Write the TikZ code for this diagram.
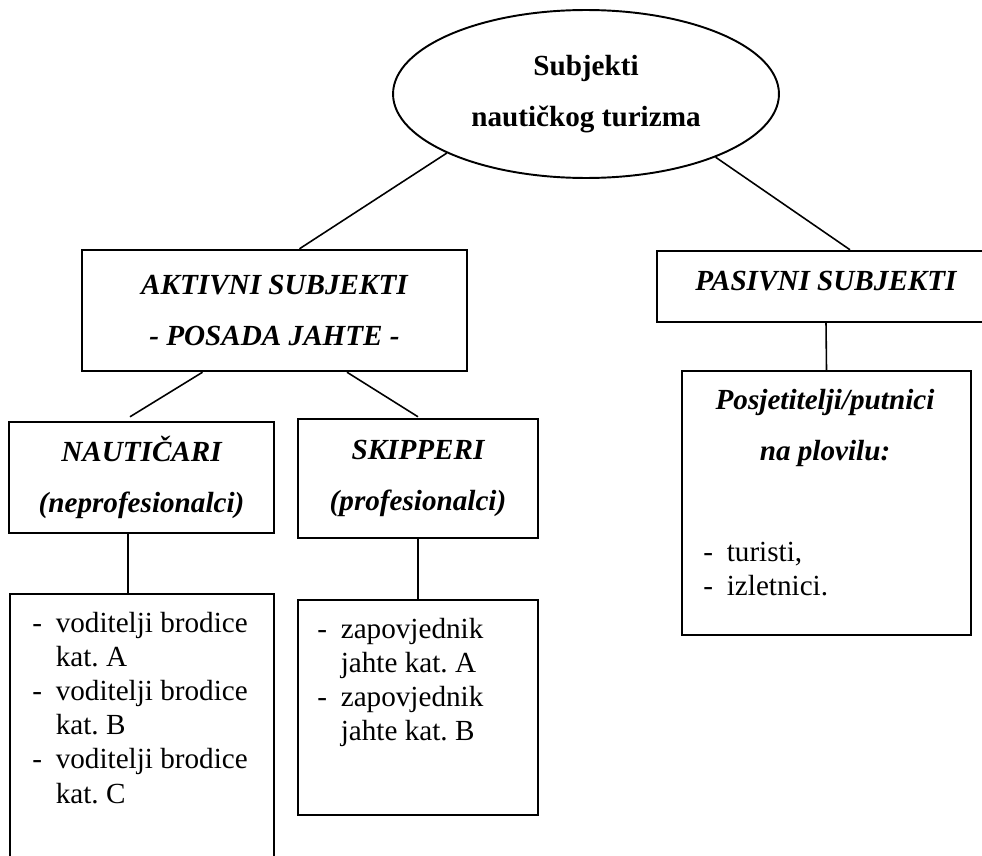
\documentclass[tikz,border=0pt]{standalone}
\usepackage{fontspec}
\setmainfont{Liberation Serif}
\usetikzlibrary{shapes.geometric}
\frenchspacing

\newcommand{\naslov}{\fontsize{16.6pt}{29pt}\selectfont}
\newcommand{\tekst}{\fontsize{16.6pt}{19.4pt}\selectfont}
\newcommand{\crta}{\makebox[0.47cm][l]{-}}
\newcommand{\uvuci}{\hspace*{0.47cm}}

\tikzset{
  okvir/.style={draw, line width=1.4pt, inner sep=0pt, align=center, font=\naslov\bfseries\itshape},
  popis/.style={anchor=north west, inner sep=0pt, align=left, font=\tekst},
  veza/.style={line width=0.9pt}
}

\begin{document}
\begin{tikzpicture}[x=0.02cm, y=-0.02cm]
    \useasboundingbox (0,0) rectangle (982,855);
    \clip (0,0) rectangle (982,855);
    % vrh
    \node[ellipse, draw, line width=1.1pt, inner sep=0pt, minimum width=7.72cm, minimum height=3.36cm,
          align=center, font=\naslov\bfseries] (sub) at (586,94) {Subjekti\\nautičkog turizma};
    % aktivni i pasivni
    \node[okvir, minimum width=7.7cm, minimum height=2.42cm] (akt) at (274.5,310.5) {AKTIVNI SUBJEKTI\\- POSADA JAHTE -};
    \node[okvir, minimum width=6.76cm, minimum height=1.42cm, text height=0.39cm, text depth=0.25cm] (pas) at (826,286.5) {PASIVNI SUBJEKTI};
    % posada
    \node[okvir, minimum width=5.3cm, minimum height=2.22cm] (nau) at (141.5,477.5) {NAUTIČARI\\(neprofesionalci)};
    \node[okvir, minimum width=4.8cm, minimum height=2.38cm] (ski) at (418,478.5) {SKIPPERI\\(profesionalci)};
    % putnici
    \node[okvir, minimum width=5.78cm, minimum height=5.28cm] (pos) at (826.5,503) {};
    \node[font=\naslov\bfseries\itshape, align=center, inner sep=0pt] (posn) at (825,428) {Posjetitelji/putnici\\na plovilu:};
    \node[popis] (post) at (703,542) {\crta turisti,\\\crta izletnici.};
    % popisi
    \node[okvir, minimum width=5.28cm, minimum height=5.72cm] (vod) at (142,737) {};
    \node[popis] (vodt) at (32,612) {\crta voditelji brodice\\\uvuci kat. A\\\crta voditelji brodice\\\uvuci kat. B\\\crta voditelji brodice\\\uvuci kat. C};
    \node[okvir, minimum width=4.8cm, minimum height=4.3cm] (zap) at (418,707.5) {};
    \node[popis] (zapt) at (317,618) {\crta zapovjednik\\\uvuci jahte kat. A\\\crta zapovjednik\\\uvuci jahte kat. B};
    % veze
    \draw[veza] (sub.-157) -- ([xshift=0.5cm]akt.north);
    \draw[veza] (sub.-26) -- ([xshift=0.48cm]pas.north);
    \draw[veza] ([xshift=-1.44cm]akt.south) -- ([xshift=-0.23cm,yshift=0.08cm]nau.north);
    \draw[veza] ([xshift=1.45cm]akt.south) -- ([yshift=0.02cm]ski.north);
    \draw[veza] ([xshift=-0.27cm]nau.south) -- ([xshift=-0.28cm]vod.north);
    \draw[veza] (ski.south) -- (zap.north);
    \draw[veza] (pas.south) -- (pos.north);
\end{tikzpicture}
\end{document}
